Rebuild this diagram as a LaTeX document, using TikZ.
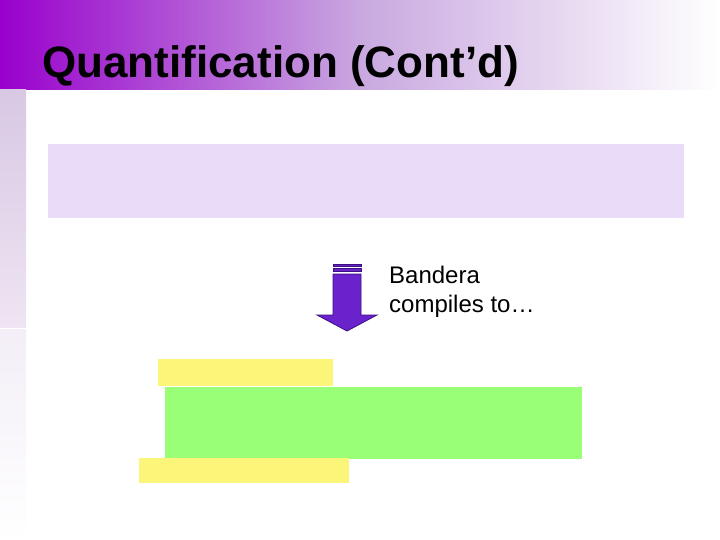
\documentclass[tikz,border=0pt]{standalone}
\usepackage{fontspec}
\setmainfont{Liberation Sans}
\begin{document}
\begin{tikzpicture}[x=1pt,y=-1pt,
  box/.style={draw=none},
  arrowcol/.style={fill=arrowfill,draw=arrowline,line width=0.8pt}]
\definecolor{hdrL}{HTML}{9900CC}
\definecolor{hdrM}{HTML}{C9A8E0}
\definecolor{stripA}{HTML}{D8C8E4}
\definecolor{stripB}{HTML}{EEE4F2}
\definecolor{stripC}{HTML}{F3EEF7}
\definecolor{lav}{HTML}{EADCF8}
\definecolor{yel}{HTML}{FBF57A}
\definecolor{grn}{HTML}{99FF77}
\definecolor{arrowfill}{HTML}{6A22CC}
\definecolor{arrowline}{HTML}{3A1080}
\useasboundingbox (0,0) rectangle (720,540);
\fill[white] (0,0) rectangle (720,540);
\shade[left color=hdrL,right color=hdrM] (0,0) rectangle (360,90);
\shade[left color=hdrM,right color=white] (360,0) rectangle (720,90);
\shade[top color=stripA,bottom color=stripB] (0,90) rectangle (26,327);
\shade[top color=stripC,bottom color=white] (0,329) rectangle (26,540);
\node[anchor=base west,inner sep=0,font=\fontsize{44}{50}\selectfont\bfseries] (title) at (42,78) {Quantification (Cont’d)};
\fill[lav] (48,144) rectangle (684,218);
\fill[yel] (158,359) rectangle (333,386);
\fill[grn] (165,387) rectangle (582,459);
\fill[yel] (139,458) rectangle (349,483);
\draw[arrowcol] (333,264) rectangle (361,266);
\draw[arrowcol] (333,268.5) rectangle (361,271);
\draw[arrowcol] (333,274) -- (361,274) -- (361,315) -- (377,315) -- (347,331) -- (317,315) -- (333,315) -- cycle;
\node[anchor=base west,inner sep=0,align=left,font=\fontsize{24}{29}\selectfont] (lbl) at (389,312) {Bandera\\compiles to…};
\end{tikzpicture}
\end{document}
